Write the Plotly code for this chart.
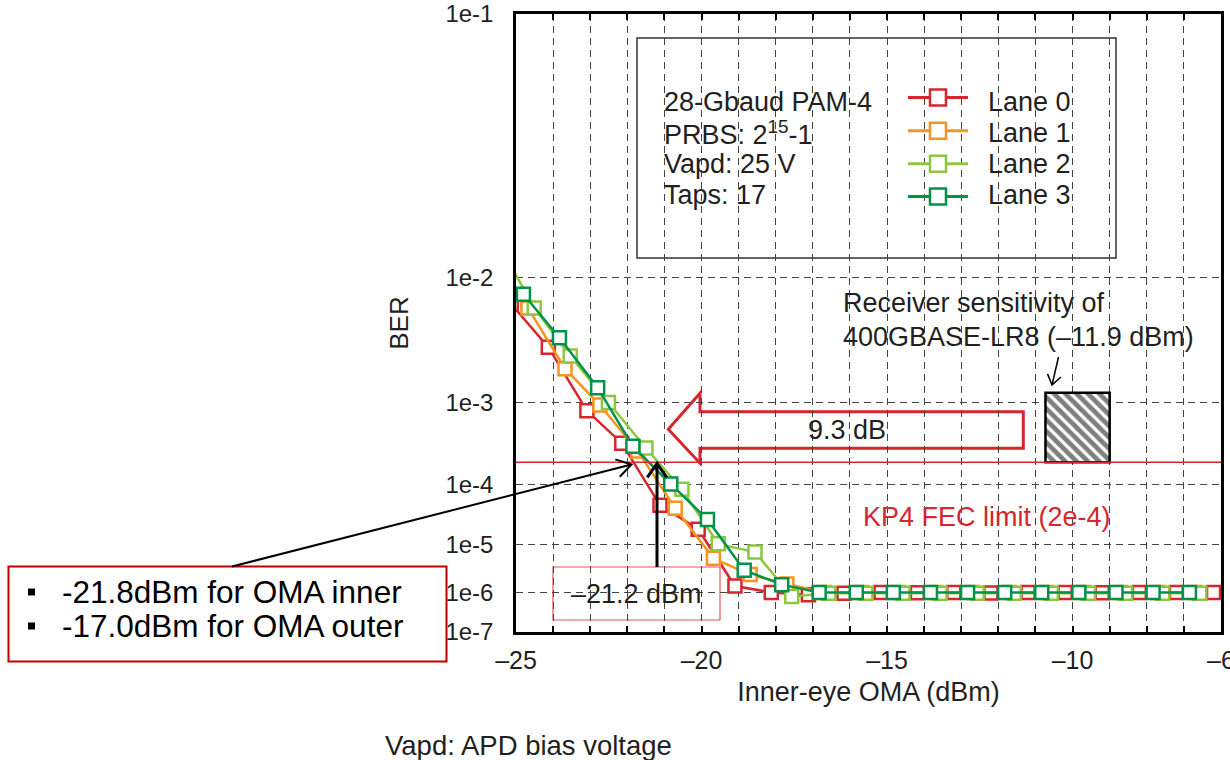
import math
import plotly.graph_objects as go

# ---------------- data ----------------
LANE_NAMES = ["Lane 0", "Lane 1", "Lane 2", "Lane 3"]
LANE_COLORS = ["#d6262e", "#f7941e", "#8dc63f", "#00924a"]

lane0_oma = [-25.13, -24.13, -23.09, -22.15, -21.12, -20.09, -19.10, -18.12, -17.12,
             -16.16, -15.16, -14.18, -13.20, -12.20, -11.20, -10.20, -9.20, -8.20, -7.20, -6.20]
lane0_ber = [6.7e-3, 3.2e-3, 8.2e-4, 3.5e-4, 4.8e-5, 1.9e-5, 1.4e-6, 1.0e-6, 8.8e-7,
             9.6e-7, 1.0e-6, 9.8e-7, 1.0e-6, 9.7e-7, 1.0e-6, 1.0e-6, 9.8e-7, 1.0e-6, 9.9e-7, 1.0e-6]

lane1_oma = [-24.68, -23.68, -22.74, -21.72, -20.71, -19.68, -18.69, -17.70, -16.70,
             -15.70, -14.70, -13.70, -12.70, -11.70, -10.70, -9.70, -8.70, -7.70, -6.70]
lane1_ber = [6.3e-3, 2.1e-3, 9.4e-4, 2.8e-4, 4.3e-5, 5.4e-6, 2.5e-6, 1.55e-6, 1.0e-6,
             1.0e-6, 1.0e-6, 1.0e-6, 1.0e-6, 1.0e-6, 1.0e-6, 1.0e-6, 1.0e-6, 1.0e-6, 1.0e-6]

lane2_oma = [-25.51, -24.51, -23.54, -22.51, -21.50, -20.53, -19.55, -18.56, -17.57,
             -16.57, -15.57, -14.57, -13.57, -12.57, -11.57, -10.57, -9.57, -8.57, -7.57, -6.57]
lane2_ber = [1.6e-2, 6.3e-3, 2.7e-3, 1.0e-3, 3.05e-4, 8.4e-5, 1.03e-5, 7.2e-6, 8.0e-7,
             9.6e-7, 9.6e-7, 9.6e-7, 9.6e-7, 9.6e-7, 9.6e-7, 9.6e-7, 9.6e-7, 9.6e-7, 9.6e-7, 9.6e-7]

lane3_oma = [-24.80, -23.83, -22.80, -21.85, -20.83, -19.84, -18.85, -17.84, -16.83,
             -15.83, -14.83, -13.83, -12.83, -11.83, -10.83, -9.83, -8.83, -7.83, -6.85]
lane3_ber = [7.8e-3, 3.8e-3, 1.4e-3, 3.2e-4, 1.0e-4, 2.8e-5, 3.1e-6, 1.5e-6, 1.0e-6,
             1.0e-6, 1.0e-6, 1.0e-6, 1.0e-6, 1.0e-6, 1.0e-6, 1.0e-6, 1.0e-6, 1.0e-6, 1.0e-6]

LANE_OMA = [lane0_oma, lane1_oma, lane2_oma, lane3_oma]
LANE_BER = [lane0_ber, lane1_ber, lane2_ber, lane3_ber]

FEC_LIMIT = 2e-4
SENSITIVITY_OMA = -21.2
SENS_BOX_OMA = [-10.73, -9.0]
SENS_BOX_BER = [2e-4, 1.25e-3]

X_TICKS = list(range(-25, -5))
X_TICK_LABELS = ["–25" if v == -25 else "–20" if v == -20 else "–15" if v == -15
                 else "–10" if v == -10 else "–6" if v == -6 else "" for v in X_TICKS]
Y_TICK_BER = [1e-1, 1e-2, 1e-3, 1e-4, 1e-5, 1e-6, 1e-7]
Y_TICK_LABELS = ["1e-1", "1e-2", "1e-3", "1e-4", "1e-5", "1e-6", "1e-7"]

INFO_LINES = ["28-Gbaud PAM-4", "PRBS: 2<sup>15</sup>-1", "Vapd: 25 V", "Taps: 17"]


# ---------------- BER -> Q-factor (dB) scale ----------------
def ber_to_q(b):
    lo, hi = 0.0, 40.0
    for _ in range(200):
        mid = 0.5 * (lo + hi)
        if 0.5 * math.erfc(mid / math.sqrt(2)) > b:
            lo = mid
        else:
            hi = mid
    return 0.5 * (lo + hi)


def yq(b):
    return -20.0 * math.log10(ber_to_q(b))


Y_LO, Y_HI = yq(1e-7), yq(1e-1)
X_LO, X_HI = -25, -6
EPSX, EPSY = 0.001, 0.0006

# plot frame in pixels
L, R, T, B = 516, 1221, 14, 632
W, H = R - L, B - T


def px(x):
    return (x - L) / W


def py(y):
    return (B - y) / H


def dx(x):
    return X_LO + (x - L) / W * (X_HI - X_LO)


def dy(y):
    return Y_LO + (B - y) / H * (Y_HI - Y_LO)


FONT = "Liberation Sans, Arial, Helvetica, sans-serif"
TXT = "#231f20"
RED = "#d6262e"

fig = go.Figure()

# hatched receiver-sensitivity box
fig.add_trace(go.Bar(
    x=[(SENS_BOX_OMA[0] + SENS_BOX_OMA[1]) / 2],
    y=[yq(SENS_BOX_BER[1]) - yq(SENS_BOX_BER[0])],
    base=[yq(SENS_BOX_BER[0])],
    width=[SENS_BOX_OMA[1] - SENS_BOX_OMA[0]],
    marker=dict(color="white", line=dict(color="black", width=2.5),
                pattern=dict(shape="\\", fgcolor="black", bgcolor="white", size=8, solidity=0.6)),
    hoverinfo="skip", showlegend=False,
))

# lanes
for name, col, xs, bs in zip(LANE_NAMES, LANE_COLORS, LANE_OMA, LANE_BER):
    fig.add_trace(go.Scatter(
        x=xs, y=[yq(b) for b in bs], mode="lines+markers", name=name,
        line=dict(color=col, width=2.5),
        marker=dict(symbol="square", size=13, color="white", line=dict(color=col, width=2.5)),
        showlegend=False,
    ))

# legend samples (manual legend inside the box)
sym_rows = [97.5, 130.7, 163.8, 196.5]
for col, yr in zip(LANE_COLORS, sym_rows):
    fig.add_trace(go.Scatter(x=[dx(908), dx(968)], y=[dy(yr)] * 2, mode="lines",
                             line=dict(color=col, width=3), hoverinfo="skip", showlegend=False))
    fig.add_trace(go.Scatter(x=[dx(938)], y=[dy(yr)], mode="markers",
                             marker=dict(symbol="square", size=16, color="white",
                                         line=dict(color=col, width=2.5)),
                             hoverinfo="skip", showlegend=False))

shapes = []
# legend box
shapes.append(dict(type="rect", xref="paper", yref="paper", x0=px(637), x1=px(1116),
                   y0=py(258), y1=py(38), line=dict(color="#333333", width=1.5),
                   fillcolor="white", layer="between"))
# FEC limit line
shapes.append(dict(type="line", xref="paper", yref="y", x0=0, x1=1,
                   y0=yq(FEC_LIMIT), y1=yq(FEC_LIMIT), line=dict(color=RED, width=1.5)))

# big hollow arrow (9.3 dB)
arrow_pts = [(668.3, 429.3), (700, 393.3), (700, 411.7), (1023.3, 411.7),
             (1023.3, 448.3), (700, 448.3), (700, 463.3)]
path = "M " + " L ".join(f"{px(a):.5f},{py(b):.5f}" for a, b in arrow_pts) + " Z"
shapes.append(dict(type="path", xref="paper", yref="paper", path=path,
                   line=dict(color=RED, width=3), fillcolor="white", layer="between"))

# -21.2 dBm box
shapes.append(dict(type="rect", xref="paper", yref="paper", x0=px(553), x1=px(720),
                   y0=py(620), y1=py(567), line=dict(color="#e0585c", width=1.2),
                   fillcolor="white", layer="between"))

# left callout box
shapes.append(dict(type="rect", xref="paper", yref="paper", x0=px(8.5), x1=px(446.5),
                   y0=py(661.5), y1=py(566.5), line=dict(color="#c00000", width=2),
                   fillcolor="white", layer="above"))
for yb in [592, 626]:
    shapes.append(dict(type="rect", xref="paper", yref="paper", x0=px(28), x1=px(35),
                       y0=py(yb + 3.5), y1=py(yb - 3.5), line=dict(width=0),
                       fillcolor="black", layer="above"))


def v_arrow(x0, y0, x1, y1, arm, ang, width):
    ddx, ddy = x1 - x0, y1 - y0
    n = math.hypot(ddx, ddy)
    ux, uy = -ddx / n, -ddy / n
    pts = []
    for s in (1, -1):
        a = math.radians(ang) * s
        rx = ux * math.cos(a) - uy * math.sin(a)
        ry = ux * math.sin(a) + uy * math.cos(a)
        pts.append((x1 + arm * rx, y1 + arm * ry))
    p = (f"M {px(x0):.5f},{py(y0):.5f} L {px(x1):.5f},{py(y1):.5f} "
         f"M {px(pts[0][0]):.5f},{py(pts[0][1]):.5f} L {px(x1):.5f},{py(y1):.5f} "
         f"L {px(pts[1][0]):.5f},{py(pts[1][1]):.5f}")
    return dict(type="path", xref="paper", yref="paper", path=p,
                line=dict(color="black", width=width), layer="above")


shapes.append(v_arrow(232, 566.5, 631.5, 464.5, 17, 32, 2))
x_sens = L + (SENSITIVITY_OMA - X_LO) / (X_HI - X_LO) * W
shapes.append(v_arrow(x_sens, 567, x_sens, 463.5, 17, 35, 3))
shapes.append(v_arrow(1058.5, 357, 1052, 385, 12, 35, 1.5))

annotations = []


def ann(text, x, y, xanchor="left", size=27, color=TXT):
    annotations.append(dict(text=text, xref="paper", yref="paper", x=px(x), y=py(y),
                            xanchor=xanchor, yanchor="middle", showarrow=False,
                            font=dict(family=FONT, size=size, color=color)))


for line, yr in zip(INFO_LINES, [101.5, 132.7, 164, 195.3]):
    ann(line, 662, yr)
for name, yr in zip(LANE_NAMES, [101.5, 132.7, 164, 195.3]):
    ann(name, 986, yr)

ann("Receiver sensitivity of", 841, 303)
ann("400GBASE-LR8 (–11.9 dBm)", 841, 336.5)
ann("9.3 dB", 846.5, 430, xanchor="center")
ann("KP4 FEC limit (2e-4)", 986.5, 516.5, xanchor="center", color=RED)
ann("–21.2 dBm", 636.5, 593.5, xanchor="center")
ann("-21.8dBm for OMA inner", 60, 592, size=31.5, color="black")
ann("-17.0dBm for OMA outer", 60, 626, size=31.5, color="black")
ann("Vapd: APD bias voltage", 383, 745, size=27.5)

fig.update_layout(
    width=1230, height=760,
    margin=dict(l=L, r=1230 - R, t=T, b=760 - B, autoexpand=False),
    plot_bgcolor="white", paper_bgcolor="white",
    showlegend=False,
    font=dict(family=FONT, size=25, color=TXT),
    shapes=shapes, annotations=annotations,
    xaxis=dict(
        range=[X_LO - EPSX, X_HI + EPSX], tickmode="array", tickvals=X_TICKS, ticktext=X_TICK_LABELS,
        ticks="inside", ticklen=6, tickwidth=1.5, tickcolor="black",
        showline=True, linewidth=2.5, linecolor="black", mirror="ticks",
        showgrid=True, gridcolor="#444444", gridwidth=1, griddash="7px,5px",
        zeroline=False, tickfont=dict(size=25), ticklabelstandoff=4,
        ticklabeloverflow="allow", automargin=False,
        title=dict(text="Inner-eye OMA (dBm)", font=dict(size=27), standoff=10),
    ),
    yaxis=dict(
        range=[Y_LO - EPSY, Y_HI + EPSY], tickmode="array",
        tickvals=[yq(b) for b in Y_TICK_BER], ticktext=Y_TICK_LABELS,
        ticks="", showline=True, linewidth=2.5, linecolor="black", mirror=True,
        showgrid=True, gridcolor="#444444", gridwidth=1, griddash="7px,5px",
        zeroline=False, tickfont=dict(size=24), ticklabelstandoff=15,
        ticklabeloverflow="allow", automargin=False,
        title=dict(text="BER", font=dict(size=26), standoff=30),
    ),
)

fig.write_html("out.html")
